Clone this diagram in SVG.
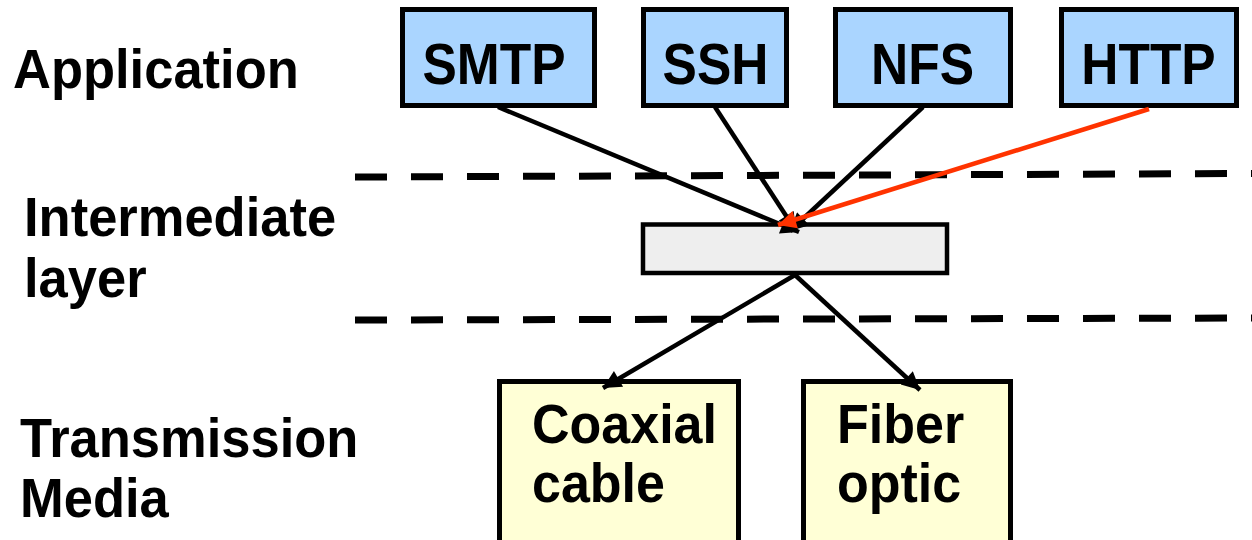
<svg xmlns="http://www.w3.org/2000/svg" width="1252" height="540" viewBox="0 0 1252 540">
<style>
  text { font-family: "Liberation Sans", Arial, sans-serif; font-weight: bold; fill: #000; }
  .lbl { font-size: 52.5px; }
  .box { font-size: 51.5px; }
  .med { font-size: 52px; }
  .app { fill: #aad5ff; stroke: #000; stroke-width: 5; }
  .mid { fill: #eeeeee; stroke: #000; stroke-width: 4.5; }
  .media { fill: #ffffd6; stroke: #000; stroke-width: 5; }
  .dash { stroke: #000; stroke-width: 7; fill: none; stroke-dasharray: 32 24; }
  .conn { stroke: #000; stroke-width: 4.5; fill: none; }
  .red { stroke: #ff3300; stroke-width: 4.5; fill: none; }
</style>
<defs>
  <marker id="ah" viewBox="0 0 10 10" refX="10" refY="5" markerWidth="24" markerHeight="18" markerUnits="userSpaceOnUse" orient="auto">
    <path d="M0,0 L10,5 L0,10 z" fill="#000"/>
  </marker>
  <marker id="ahr" viewBox="0 0 10 10" refX="10" refY="5" markerWidth="24" markerHeight="18" markerUnits="userSpaceOnUse" orient="auto">
    <path d="M0,0 L10,5 L0,10 z" fill="#ff3300"/>
  </marker>
</defs>
<rect width="1252" height="540" fill="#ffffff"/>

<g id="layer-labels">
  <text class="lbl" transform="translate(13,88) scale(1,1.07)">Application</text>
  <text class="lbl" transform="translate(24,236) scale(1,1.07)">Intermediate</text>
  <text class="lbl" transform="translate(24,297) scale(1,1.07)">layer</text>
  <text class="lbl" transform="translate(20,457) scale(1,1.07)">Transmission</text>
  <text class="lbl" transform="translate(20,517) scale(1,1.07)">Media</text>
</g>

<g id="separators">
  <line class="dash" x1="355" y1="177" x2="1252" y2="173.5"/>
  <line class="dash" x1="355" y1="320" x2="1252" y2="318"/>
</g>

<g id="smtp">
  <rect class="app" x="402.5" y="9.5" width="192" height="96"/>
  <text class="box" text-anchor="middle" transform="translate(494,84) scale(1,1.1)">SMTP</text>
</g>
<g id="ssh">
  <rect class="app" x="643.5" y="9.5" width="143" height="96"/>
  <text class="box" text-anchor="middle" transform="translate(715.5,84) scale(1,1.1)">SSH</text>
</g>
<g id="nfs">
  <rect class="app" x="835.5" y="9.5" width="175" height="96"/>
  <text class="box" text-anchor="middle" transform="translate(922.5,84) scale(1,1.1)">NFS</text>
</g>
<g id="http">
  <rect class="app" x="1061.5" y="9.5" width="175" height="96"/>
  <text class="box" text-anchor="middle" transform="translate(1148.5,84) scale(1,1.1)">HTTP</text>
</g>

<g id="intermediate">
  <rect class="mid" x="643" y="224.5" width="304" height="48.5"/>
</g>

<g id="coaxial">
  <rect class="media" x="499.5" y="381.5" width="239" height="170"/>
  <text class="med" transform="translate(532,443) scale(1,1.07)">Coaxial</text>
  <text class="med" transform="translate(532,502) scale(1,1.07)">cable</text>
</g>
<g id="fiber">
  <rect class="media" x="803.5" y="381.5" width="207" height="170"/>
  <text class="med" transform="translate(837,443) scale(1,1.07)">Fiber</text>
  <text class="med" transform="translate(837,502) scale(1,1.07)">optic</text>
</g>

<g id="connectors">
  <line class="conn" x1="498" y1="107" x2="799" y2="232" marker-end="url(#ah)"/>
  <line class="conn" x1="715" y1="107" x2="796" y2="231" marker-end="url(#ah)"/>
  <line class="conn" x1="923" y1="107" x2="790" y2="231" marker-end="url(#ah)"/>
  <line class="red" x1="1149" y1="109" x2="778" y2="225" marker-end="url(#ahr)"/>
  <line class="conn" x1="795" y1="275" x2="603" y2="388" marker-end="url(#ah)"/>
  <line class="conn" x1="795" y1="275" x2="920" y2="390" marker-end="url(#ah)"/>
</g>
</svg>
